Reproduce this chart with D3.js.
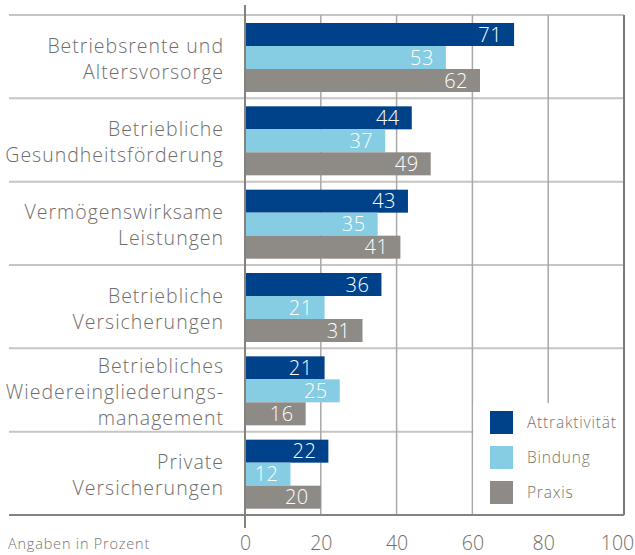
<!DOCTYPE html>
<html>
<head>
<meta charset="utf-8">
<script src="https://cdn.jsdelivr.net/npm/d3@7"></script>
<style>
  body { margin: 0; background: #fff; }
  svg { display: block; font-family: 'Open Sans', 'Lato', sans-serif; font-weight: 300; }
</style>
</head>
<body>
<div id="container"></div>
<script>
const categories = [
  ['Betriebsrente und', 'Altersvorsorge'],
  ['Betriebliche', 'Gesundheitsförderung'],
  ['Vermögenswirksame', 'Leistungen'],
  ['Betriebliche', 'Versicherungen'],
  ['Betriebliches', 'Wiedereingliederungs-', 'management'],
  ['Private', 'Versicherungen']
];
const seriesNames = ['Attraktivität', 'Bindung', 'Praxis'];
const attraktivitaet = [71, 44, 43, 36, 21, 22];
const bindung = [53, 37, 35, 21, 25, 12];
const praxis = [62, 49, 41, 31, 16, 20];
const tickValues = [0, 20, 40, 60, 80, 100];
const colors = ['#00428a', '#86cde3', '#8e8a85'];

const w = 635;
const h = 555;
const values = [attraktivitaet, bindung, praxis];
const keys = categories.map((c, i) => i);

const svg = d3.select('#container').append('svg')
  .attr('width', w)
  .attr('height', h);

const xScale = d3.scaleLinear().domain([0, 100]).range([245, 624]);
const yScale = d3.scaleBand().domain(keys).range([15, 515]);
const inner = d3.scaleBand().domain(seriesNames).range([8, 77]);

// separators between categories
svg.append('g')
  .selectAll('line')
  .data(keys)
  .enter()
  .append('line')
  .attr('x1', 9)
  .attr('x2', xScale(100))
  .attr('y1', d => yScale(d))
  .attr('y2', d => yScale(d))
  .attr('stroke', '#c6c5c2')
  .attr('stroke-width', 2);

// vertical grid
svg.append('g')
  .selectAll('line')
  .data(tickValues.slice(1))
  .enter()
  .append('line')
  .attr('x1', d => xScale(d))
  .attr('x2', d => xScale(d))
  .attr('y1', 15)
  .attr('y2', 515)
  .attr('stroke', d => (d === 100 ? '#7d7a76' : '#aaa8a5'))
  .attr('stroke-width', d => (d === 100 ? 2 : 1.5));

// bars
const groups = svg.append('g')
  .selectAll('g')
  .data(keys)
  .enter()
  .append('g')
  .attr('transform', d => `translate(0,${yScale(d)})`);

seriesNames.forEach((s, si) => {
  groups.append('rect')
    .attr('x', xScale(0))
    .attr('y', inner(s))
    .attr('width', d => xScale(values[si][d]) - xScale(0))
    .attr('height', inner.bandwidth())
    .attr('fill', colors[si]);
  groups.append('text')
    .attr('x', d => xScale(values[si][d]) - 12)
    .attr('y', inner(s) + inner.bandwidth() / 2)
    .attr('dy', '0.36em')
    .attr('text-anchor', 'end')
    .attr('fill', '#fff')
    .style('font-size', '20px')
    .style('letter-spacing', '0.5px')
    .text(d => values[si][d]);
});

// category labels
groups.append('text')
  .attr('text-anchor', 'end')
  .attr('fill', '#6f6d6a')
  .style('font-size', '19.5px')
  .style('letter-spacing', '1px')
  .each(function (d) {
    const lines = categories[d];
    const lh = 26;
    const y0 = yScale.bandwidth() / 2 + 2 - (lines.length - 1) * lh / 2;
    d3.select(this).selectAll('tspan')
      .data(lines)
      .enter()
      .append('tspan')
      .attr('x', 224)
      .attr('y', (l, i) => y0 + i * lh)
      .attr('dy', '0.36em')
      .text(l => l);
  });

// legend
const legend = svg.append('g');
legend.append('rect')
  .attr('x', xScale(60) + 1)
  .attr('y', 403)
  .attr('width', xScale(100) - xScale(60) - 2)
  .attr('height', 111)
  .attr('fill', '#fff');
seriesNames.forEach((s, i) => {
  legend.append('rect')
    .attr('x', 490)
    .attr('y', 411 + i * 35)
    .attr('width', 23)
    .attr('height', 23)
    .attr('fill', colors[i]);
  legend.append('text')
    .attr('x', 527)
    .attr('y', 422.5 + i * 35)
    .attr('dy', '0.36em')
    .attr('fill', '#77746f')
    .style('font-size', '15.5px')
    .style('letter-spacing', '0.8px')
    .text(s);
});

// zero line and x axis
svg.append('line')
  .attr('x1', xScale(0))
  .attr('x2', xScale(0))
  .attr('y1', 5)
  .attr('y2', 528)
  .attr('stroke', '#85827e')
  .attr('stroke-width', 2);

svg.append('line')
  .attr('x1', 9)
  .attr('x2', xScale(100))
  .attr('y1', 515)
  .attr('y2', 515)
  .attr('stroke', '#85827e')
  .attr('stroke-width', 2);

const xAxis = d3.axisBottom(xScale).tickValues(tickValues).tickSize(0).tickPadding(0);
svg.append('g')
  .attr('transform', 'translate(0,543)')
  .call(xAxis)
  .call(g => g.select('.domain').remove())
  .selectAll('.tick text')
  .attr('fill', '#6f6d6a')
  .attr('y', 0)
  .attr('dy', '0.36em')
  .attr('dx', d => (d === 100 ? -7 : d === 80 ? -5 : 0))
  .style('font-family', "'Open Sans', 'Lato', sans-serif")
  .style('font-weight', 300)
  .style('font-size', '19.5px');

svg.append('text')
  .attr('x', 8)
  .attr('y', 544)
  .attr('dy', '0.36em')
  .attr('fill', '#77746f')
  .style('font-size', '14.5px')
  .style('letter-spacing', '0.8px')
  .text('Angaben in Prozent');
</script>
</body>
</html>
